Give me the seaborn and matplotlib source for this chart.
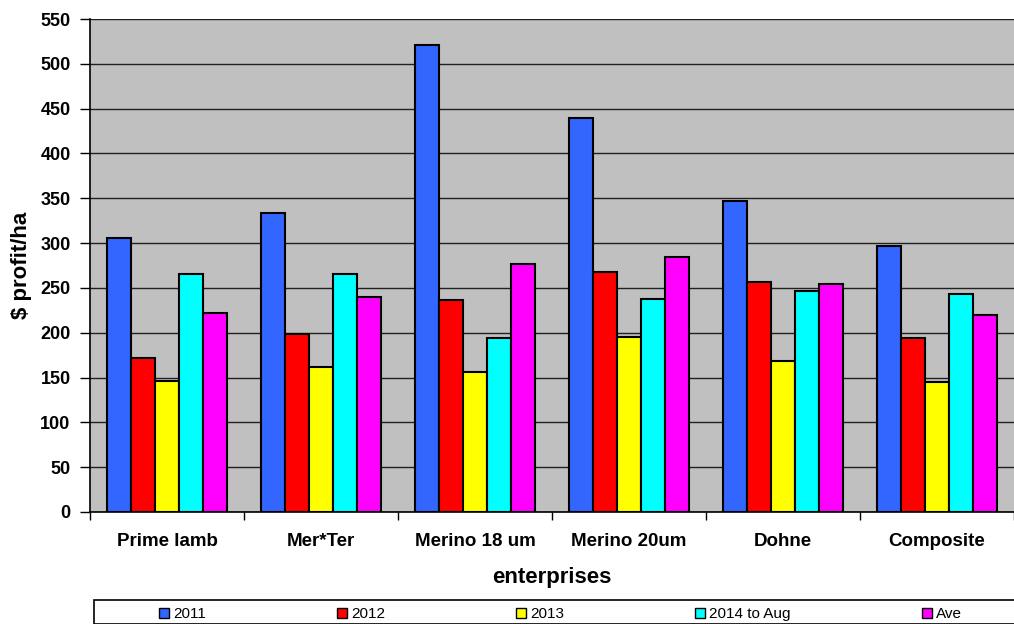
import matplotlib
matplotlib.use("Agg")
import matplotlib.pyplot as plt
from matplotlib.patches import Rectangle
import seaborn as sns
import pandas as pd

# Data
enterprises = ["Prime lamb", "Mer*Ter", "Merino 18 um", "Merino 20um", "Dohne", "Composite"]
years = ["2011", "2012", "2013", "2014 to Aug", "Ave"]
profit_2011 = [306, 334, 521, 439, 347, 297]
profit_2012 = [172, 199, 237, 268, 257, 194]
profit_2013 = [146, 162, 156, 195, 168, 145]
profit_2014 = [266, 266, 194, 238, 246, 243]
profit_ave = [222, 240, 277, 285, 254, 220]
bar_colors = ["#3366FF", "#FF0000", "#FFFF00", "#00FFFF", "#FF00FF"]

series = [profit_2011, profit_2012, profit_2013, profit_2014, profit_ave]
rows = []
for year, vals in zip(years, series):
    for ent, v in zip(enterprises, vals):
        rows.append({"enterprise": ent, "year": year, "profit": v})
df = pd.DataFrame(rows)

sns.set_theme(style="ticks")
plt.rcParams["font.family"] = ["Liberation Sans", "DejaVu Sans"]
plt.rcParams["text.color"] = "black"
plt.rcParams["axes.labelcolor"] = "black"
plt.rcParams["xtick.color"] = "black"
plt.rcParams["ytick.color"] = "black"

fig = plt.figure(figsize=(10.14, 6.24), dpi=100)
ax = fig.add_axes([90 / 1014, 1 - 512 / 624, 924 / 1014, 493 / 624])
ax.set_facecolor("#C0C0C0")

sns.barplot(data=df, x="enterprise", y="profit", hue="year",
            order=enterprises, hue_order=years, palette=bar_colors,
            width=0.78, saturation=1, edgecolor="black", linewidth=1.5,
            ax=ax)

ax.set_ylim(0, 550)
ax.set_xlim(-0.5, 5.5)
ax.set_yticks(range(0, 551, 50))
ax.yaxis.grid(True, color="#202020", linewidth=1)
ax.set_axisbelow(True)

# category boundary ticks, labels in the middle
ax.set_xticks([i - 0.5 for i in range(7)], minor=True)
ax.tick_params(axis="x", which="minor", length=6, width=1, color="black", direction="out")
ax.tick_params(axis="x", which="major", length=0, pad=15, labelsize=13.5, labelcolor="black")
ax.tick_params(axis="y", length=7, width=1, color="black", pad=7, labelsize=13, labelcolor="black")
for lab in ax.get_xticklabels() + ax.get_yticklabels():
    lab.set_fontweight("bold")

for side in ["top", "right"]:
    ax.spines[side].set_visible(False)
for side in ["left", "bottom"]:
    ax.spines[side].set_color("black")
    ax.spines[side].set_linewidth(1.2)

ax.set_xlabel("enterprises", fontsize=16, fontweight="bold", color="black")
ax.set_ylabel(r"\$ profit/ha", fontsize=16, fontweight="bold", color="black")
ax.xaxis.set_label_coords(0.5, -0.112)
ax.yaxis.set_label_coords(-0.063, 0.5)

handles, labels = ax.get_legend_handles_labels()
ax.get_legend().remove()
leg = fig.legend(handles, labels, ncol=5, frameon=False,
                 loc="center left", bbox_to_anchor=(159 / 1014, 1 - 614 / 624),
                 fontsize=11, handlelength=0.65, handleheight=0.65,
                 handletextpad=0.25, columnspacing=8.6, borderpad=0, borderaxespad=0,
                 labelcolor="black")
for h in leg.legend_handles:
    h.set_edgecolor("black")
    h.set_linewidth(1)

fig.add_artist(Rectangle((94 / 1014, 0), 1, 1 - 600 / 624, transform=fig.transFigure,
                         facecolor="none", edgecolor="black", linewidth=1.2))

fig.savefig("out.png", dpi=100)
